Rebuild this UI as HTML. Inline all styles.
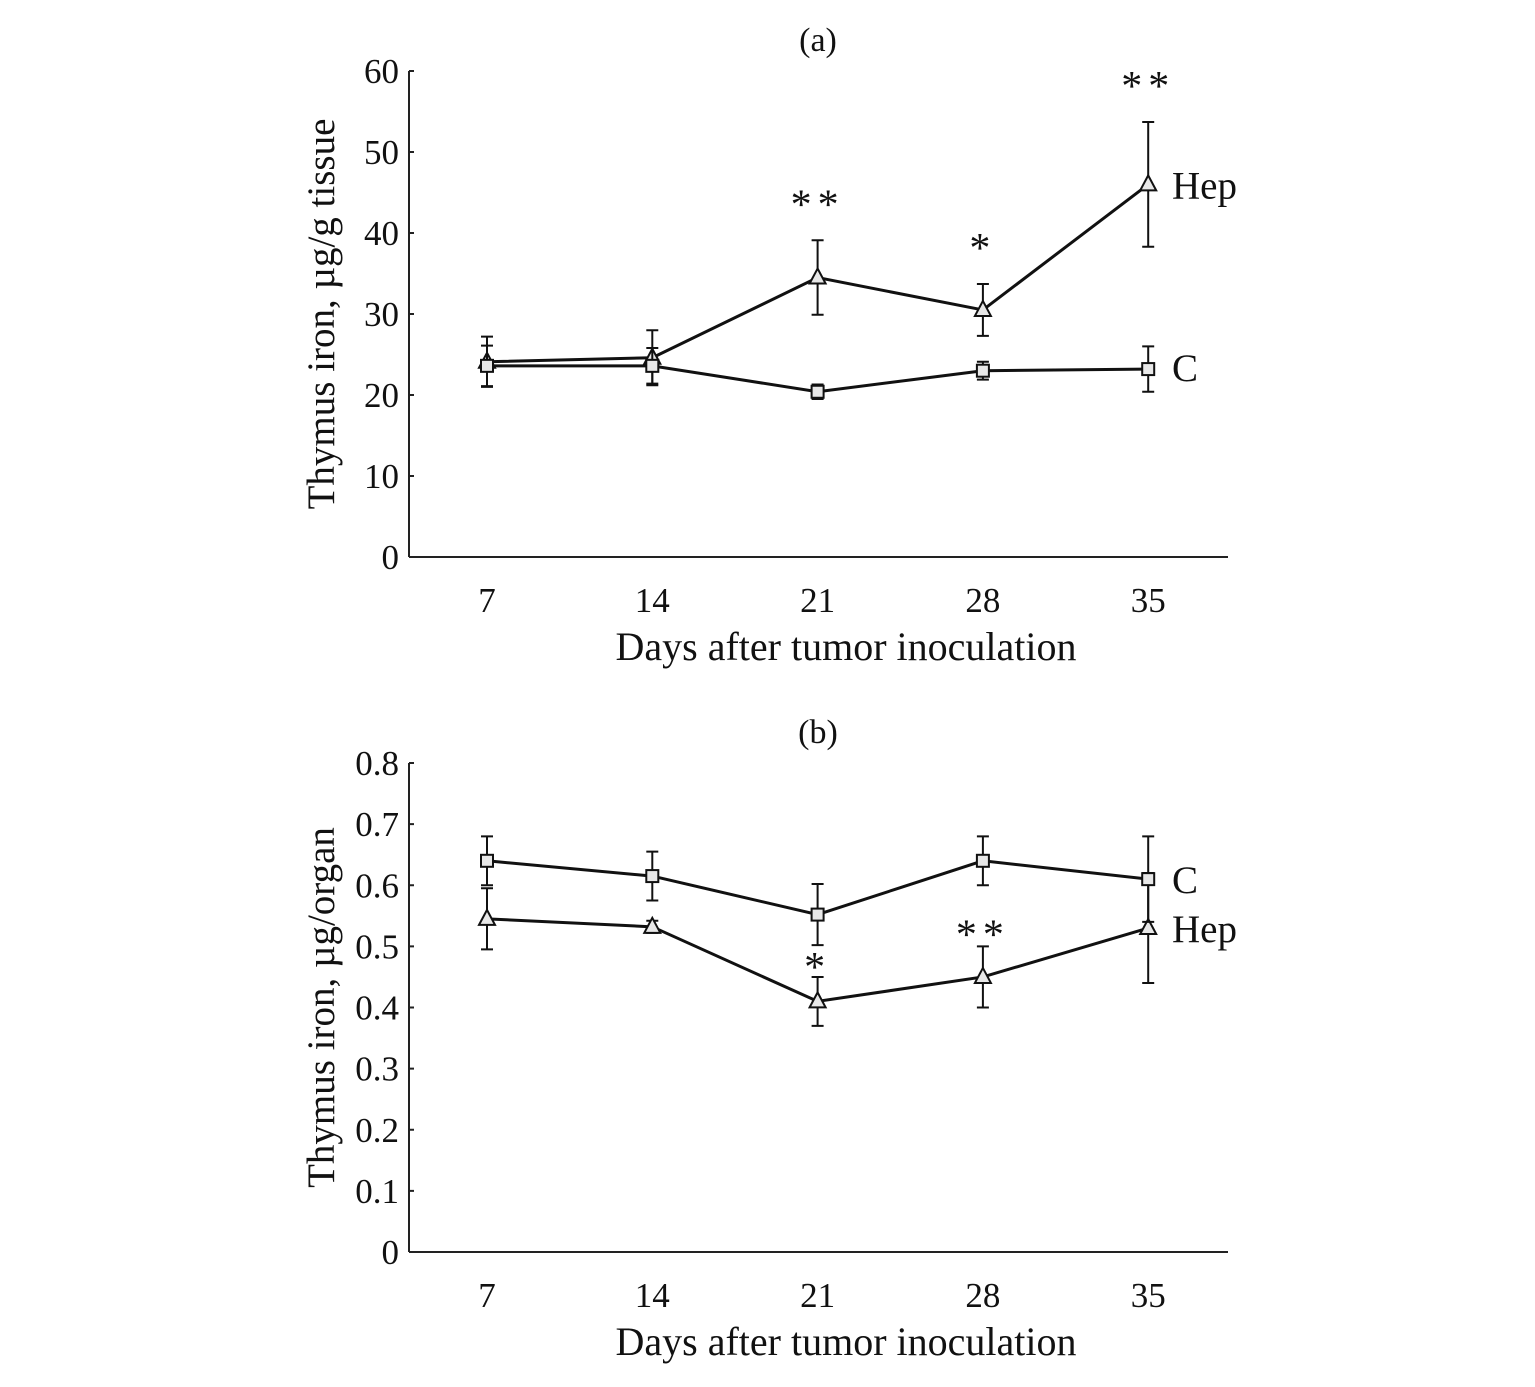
<!DOCTYPE html>
<html><head><meta charset="utf-8"><style>
body{margin:0;background:#fff}
svg text{font-family:"Liberation Serif",serif;fill:#111}
</style></head><body>
<svg id="s" width="1535" height="1382"></svg>
<script>
const days=[7,14,21,28,35];
const aTicks=[0,10,20,30,40,50,60];
const aHep=[24.1,24.6,34.5,30.5,46];
const aHepErr=[3.1,3.4,4.6,3.2,7.7];
const aC=[23.6,23.6,20.4,23,23.2];
const aCErr=[2.5,2.2,0.9,1.1,2.8];
const aStars=["","","**","*","**"];
const bTicks=[0,0.1,0.2,0.3,0.4,0.5,0.6,0.7,0.8];
const bC=[0.64,0.615,0.552,0.64,0.61];
const bCErr=[0.04,0.04,0.05,0.04,0.07];
const bHep=[0.545,0.532,0.41,0.45,0.53];
const bHepErr=[0.05,0.01,0.04,0.05,0.09];
const bStars=["","","*","**",""];

const S=document.getElementById('s');
const NS='http://www.w3.org/2000/svg';
function el(t,a,txt){const e=document.createElementNS(NS,t);for(const k in a)e.setAttribute(k,a[k]);if(txt!==undefined)e.textContent=txt;S.appendChild(e);return e;}

function panel(p){
  const x=i=>487+i*165.3;
  const y=v=>p.y0-(v-p.min)/(p.max-p.min)*(p.y0-p.yTop);
  let e=el('text',{x:818,y:p.yTop-20,'font-size':34,'text-anchor':'middle'},p.label);
  
  e=el('line',{x1:409,y1:p.yTop,x2:409,y2:p.y0,stroke:'#222','stroke-width':2});
  
  e=el('line',{x1:409,y1:p.y0,x2:1228,y2:p.y0,stroke:'#222','stroke-width':2});
  
  p.ticks.forEach(v=>{
    el('line',{x1:409,y1:y(v),x2:414,y2:y(v),stroke:'#222','stroke-width':2});
    e=el('text',{x:399,y:y(v)+12,'font-size':35,'text-anchor':'end'},String(v));
    
  });
  days.forEach((d,i)=>{
    e=el('text',{x:x(i),y:p.y0+55,'font-size':35,'text-anchor':'middle'},String(d));
    
  });
  e=el('text',{x:846,y:p.y0+103,'font-size':40,'text-anchor':'middle'},'Days after tumor inoculation');
  
  const cy=(p.yTop+p.y0)/2;
  e=el('text',{x:334,y:cy,'font-size':39,'text-anchor':'middle',transform:`rotate(-90 334 ${cy})`},p.ytitle);
  
  [[p.hep,p.hepErr,'tri','hep'],[p.c,p.cErr,'sq','control']].forEach(([vals,errs,m,n])=>{
    e=el('polyline',{points:vals.map((v,i)=>x(i)+','+y(v)).join(' '),fill:'none',stroke:'#111','stroke-width':3});
    
    vals.forEach((v,i)=>{
      const X=x(i),t=y(v+errs[i]),b=y(v-errs[i]);
      e=el('path',{d:`M${X},${t}V${b}M${X-6},${t}H${X+6}M${X-6},${b}H${X+6}`,stroke:'#111','stroke-width':2,fill:'none'});
      
      const Y=y(v);
      if(m==='sq'){e=el('rect',{x:X-6,y:Y-6,width:12,height:12,fill:'#e8e8e8',stroke:'#111','stroke-width':2});}
      else{e=el('polygon',{points:`${X},${Y-9} ${X-8},${Y+6} ${X+8},${Y+6}`,fill:'#e8e8e8',stroke:'#111','stroke-width':2});}
      
    });
  });
  p.stars.forEach((s,i)=>{
    if(!s)return;
    const top=y(p.hep[i]+p.hepErr[i]);
    const yy=p.starBelow?(i===2?top+4:top+2):top-22;
    e=el('text',{x:x(i),y:yy,'font-size':42,'text-anchor':'middle','letter-spacing':'6'},s);
    
  });
  const last=days.length-1;
  e=el('text',{x:1172,y:y(p.hep[last])+p.hepDy,'font-size':39},'Hep');
  
  e=el('text',{x:1172,y:y(p.c[last])+p.cDy,'font-size':39},'C');
  
}
panel({label:'(a)',yTop:71,y0:557,min:0,max:60,ticks:aTicks,ytitle:'Thymus iron, µg/g tissue',
  hep:aHep,hepErr:aHepErr,c:aC,cErr:aCErr,stars:aStars,hepDy:14,cDy:12});
panel({label:'(b)',yTop:763,y0:1252,min:0,max:0.8,ticks:bTicks,ytitle:'Thymus iron, µg/organ',
  hep:bHep,hepErr:bHepErr,c:bC,cErr:bCErr,stars:bStars,starBelow:true,hepDy:14,cDy:14});
</script>
</body></html>
